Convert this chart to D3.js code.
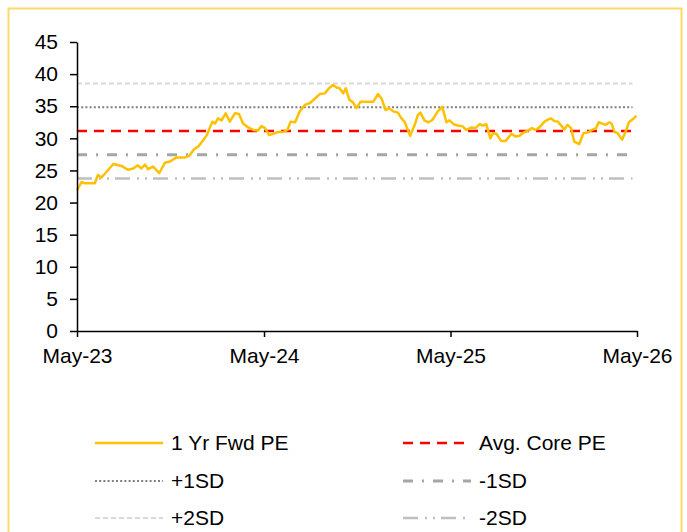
<!DOCTYPE html>
<html>
<head>
<meta charset="utf-8">
<script src="https://cdn.jsdelivr.net/npm/d3@7.9.0/dist/d3.min.js"></script>
<style>
  html, body { margin: 0; padding: 0; background: #fff; }
  svg { display: block; font-family: "Liberation Sans", Arial, sans-serif; }
</style>
</head>
<body>
<svg id="chart" width="687" height="532"></svg>
<script>
// 1 Yr Fwd PE
const peDates = [
  '2023-05-01','2023-05-10','2023-05-16','2023-05-26','2023-06-05','2023-06-11','2023-06-18','2023-06-28',
  '2023-07-11','2023-07-27','2023-08-09','2023-08-19','2023-08-28','2023-09-04','2023-09-11','2023-09-17',
  '2023-09-27','2023-10-09','2023-10-20','2023-10-30','2023-11-11','2023-11-28','2023-12-07','2023-12-16',
  '2023-12-24','2024-01-03','2024-01-10','2024-01-21','2024-01-26','2024-02-01','2024-02-08','2024-02-16',
  '2024-02-24','2024-03-05','2024-03-13','2024-03-21','2024-03-31','2024-04-10','2024-04-19','2024-04-26',
  '2024-05-03','2024-05-11','2024-05-19','2024-05-29','2024-06-08','2024-06-16','2024-06-22','2024-07-01',
  '2024-07-10','2024-07-20','2024-07-30','2024-08-09','2024-08-18','2024-08-28','2024-09-05','2024-09-13',
  '2024-09-20','2024-09-26','2024-10-03','2024-10-08','2024-10-15','2024-10-22','2024-10-29','2024-11-06',
  '2024-11-18','2024-12-01','2024-12-10','2024-12-17','2024-12-25','2025-01-01','2025-01-09','2025-01-18',
  '2025-01-25','2025-01-31','2025-02-05','2025-02-11','2025-02-20','2025-02-26','2025-03-03','2025-03-11',
  '2025-03-19','2025-03-27','2025-04-06','2025-04-15','2025-04-23','2025-04-29','2025-05-07','2025-05-15',
  '2025-05-24','2025-06-01','2025-06-11','2025-06-19','2025-06-27','2025-07-03','2025-07-10','2025-07-18',
  '2025-07-23','2025-07-30','2025-08-08','2025-08-17','2025-08-28','2025-09-05','2025-09-13','2025-09-21',
  '2025-09-29','2025-10-08','2025-10-14','2025-10-22','2025-11-01','2025-11-07','2025-11-14','2025-11-20',
  '2025-11-27','2025-12-10','2025-12-16','2025-12-23','2025-12-29','2026-01-08','2026-01-16','2026-01-24',
  '2026-02-02','2026-02-10','2026-02-15','2026-02-22','2026-03-01','2026-03-08','2026-03-12','2026-03-18',
  '2026-03-24','2026-04-02','2026-04-10','2026-04-15','2026-04-23','2026-04-30'
];
const peValues = [
  21.9,23.2,23.0,23.0,23.0,24.3,23.9,24.8,
  26.0,25.7,25.1,25.3,25.8,25.3,25.9,25.2,
  25.6,24.6,26.2,26.4,27.0,27.0,27.3,28.3,
  28.7,29.7,30.5,32.6,32.3,33.1,32.8,33.9,
  32.6,33.9,33.8,32.3,31.7,31.3,31.2,31.9,
  31.6,30.5,30.7,31.0,31.0,31.3,32.6,32.5,
  34.2,35.2,35.5,36.2,36.9,37.0,37.8,38.3,
  37.9,37.8,37.0,37.8,36.0,35.6,34.7,35.7,
  35.7,35.7,36.9,36.2,34.4,34.7,34.2,34.0,
  33.1,32.6,31.6,30.4,32.1,33.6,34.0,32.8,
  32.5,32.9,34.2,34.9,32.5,32.8,32.2,32.0,
  31.9,31.3,31.7,31.6,32.2,32.0,32.2,30.0,
  30.8,30.7,29.6,29.6,30.7,30.3,30.4,30.9,
  31.2,31.6,31.3,31.7,32.6,32.9,33.1,32.7,
  32.6,31.4,32.1,31.6,29.5,29.1,30.8,30.9,
  31.3,31.6,32.5,32.3,32.1,32.5,32.3,31.0,
  30.8,29.8,31.3,32.5,33.0,33.5
];

// reference levels
const levelNames = ['Avg. Core PE', '+1SD', '-1SD', '+2SD', '-2SD'];
const levelValues = [31.15, 34.85, 27.45, 38.55, 23.75];

const yTicks = [0, 5, 10, 15, 20, 25, 30, 35, 40, 45];
const xTicks = ['2023-05-01', '2024-05-01', '2025-05-01', '2026-05-01'];

const parse = d3.timeParse('%Y-%m-%d');
const data = peDates.map((d, i) => ({ date: parse(d), value: peValues[i] }));

const svg = d3.select('#chart');
const fontSize = '21px';

// frame
svg.append('rect')
  .attr('x', 8.5).attr('y', 8.5)
  .attr('width', 673).attr('height', 540)
  .attr('fill', 'none')
  .attr('stroke', '#FFD966')
  .attr('stroke-width', 2);

const x = d3.scaleTime()
  .domain([parse(xTicks[0]), parse(xTicks[xTicks.length - 1])])
  .range([77, 637]);

const y = d3.scaleLinear()
  .domain([0, 45])
  .range([331, 42]);

// styles for each level line
const levelStyle = {
  'Avg. Core PE': { color: '#FF0000', width: 2.5, dash: '10,7' },
  '+1SD': { color: '#7F7F7F', width: 2, dash: '2,2.2' },
  '-1SD': { color: '#A6A6A6', width: 3, dash: '10,9,2,9' },
  '+2SD': { color: '#D9D9D9', width: 2, dash: '5,3' },
  '-2SD': { color: '#BFBFBF', width: 2.5, dash: '15,7,2,6,2,6' }
};

const x0 = x(data[0].date);
const x1 = x(data[data.length - 1].date) - 4;

// draw back-to-front: SD lines first, avg, then series
['+2SD', '-2SD', '+1SD', '-1SD', 'Avg. Core PE'].forEach(name => {
  const v = levelValues[levelNames.indexOf(name)];
  const s = levelStyle[name];
  svg.append('line')
    .attr('x1', x0).attr('x2', x1)
    .attr('y1', y(v)).attr('y2', y(v))
    .attr('stroke', s.color)
    .attr('stroke-width', s.width)
    .attr('stroke-dasharray', s.dash);
});

const line = d3.line()
  .x(d => x(d.date))
  .y(d => y(d.value));

svg.append('path')
  .datum(data)
  .attr('d', line)
  .attr('fill', 'none')
  .attr('stroke', '#FFC000')
  .attr('stroke-width', 2.5)
  .attr('stroke-linejoin', 'round');

// axes
const yAxis = svg.append('g')
  .attr('transform', 'translate(77,0)')
  .call(d3.axisLeft(y).tickValues(yTicks).tickSize(7).tickSizeOuter(0).tickPadding(12));

const xAxis = svg.append('g')
  .attr('transform', 'translate(0,331)')
  .call(d3.axisBottom(x)
    .tickValues(xTicks.map(parse))
    .tickFormat(d3.timeFormat('%b-%y'))
    .tickSize(6).tickSizeOuter(0).tickPadding(11));

[yAxis, xAxis].forEach(g => {
  g.selectAll('path, line').attr('stroke', '#000').attr('stroke-width', 1.5);
  g.selectAll('text').attr('fill', '#000').style('font-size', fontSize)
    .style('font-family', '"Liberation Sans", Arial, sans-serif');
});

// legend
const legendItems = [
  { name: '1 Yr Fwd PE', color: '#FFC000', width: 2.5, dash: null, col: 0, row: 0 },
  { name: 'Avg. Core PE', col: 1, row: 0 },
  { name: '+1SD', col: 0, row: 1 },
  { name: '-1SD', col: 1, row: 1 },
  { name: '+2SD', col: 0, row: 2 },
  { name: '-2SD', col: 1, row: 2 }
];
const legendCols = [95, 403];
const legendRows = [443, 481, 518];

legendItems.forEach(it => {
  const s = it.dash === null ? it : levelStyle[it.name];
  const lx = legendCols[it.col];
  const ly = legendRows[it.row];
  svg.append('line')
    .attr('x1', lx).attr('x2', lx + 68)
    .attr('y1', ly).attr('y2', ly)
    .attr('stroke', s.color)
    .attr('stroke-width', s.width)
    .attr('stroke-dasharray', s.dash);
  svg.append('text')
    .attr('x', lx + 76).attr('y', ly)
    .attr('dy', '0.35em')
    .style('font-size', fontSize)
    .attr('fill', '#000')
    .text(it.name);
});
</script>
</body>
</html>
